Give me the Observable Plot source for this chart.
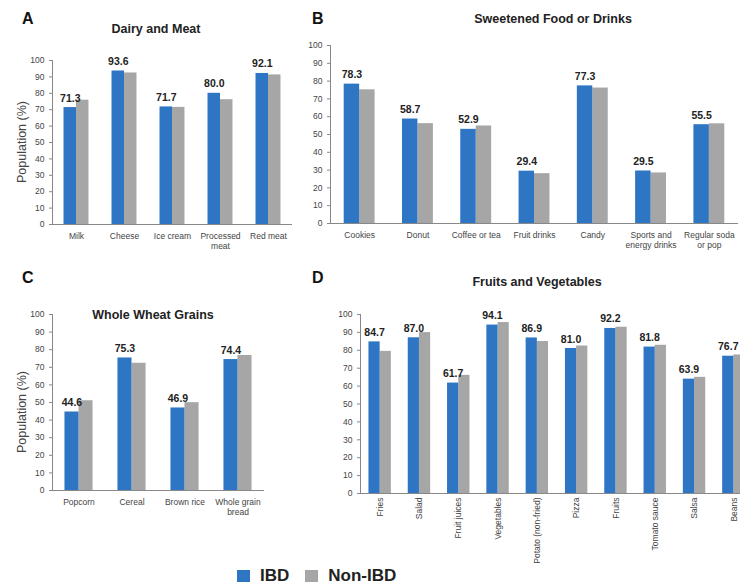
<!DOCTYPE html>
<html>
<head>
<meta charset="utf-8">
<script src="https://cdn.jsdelivr.net/npm/d3@7"></script>
<script src="https://cdn.jsdelivr.net/npm/@observablehq/plot@0.6"></script>
<style>
  body { margin: 0; background: #fff; }
  #root { position: relative; width: 740px; height: 586px; overflow: hidden; background: #fff;
          font-family: "Liberation Sans", Arial, sans-serif; }
  .abs { position: absolute; }
  .letter { font-weight: bold; font-size: 16px; color: #111; }
  .title { font-weight: bold; font-size: 12.5px; color: #222; transform: translateX(-50%); white-space: nowrap; }
  .ylab { font-size: 12.5px; color: #444; transform: translate(-50%, -50%) rotate(-90deg); white-space: nowrap; }
  .legend { display: flex; align-items: center; font-weight: bold; font-size: 17px; color: #222; }
  .sw { width: 13px; height: 12px; display: inline-block; margin-right: 10px; }
</style>
</head>
<body>
<div id="root"></div>
<script>
// ---- Data ----
const seriesNames = ["IBD", "Non-IBD"];
const colors = ["#2e75c4", "#a6a6a6"];
const yTicks = [0, 10, 20, 30, 40, 50, 60, 70, 80, 90, 100];

const dairyCats = ["Milk", "Cheese", "Ice cream", "Processed\nmeat", "Red meat"];
const dairyIBD = [71.3, 93.6, 71.7, 80.0, 92.1];
const dairyNon = [75.8, 92.4, 71.4, 76.1, 91.2];

const sweetCats = ["Cookies", "Donut", "Coffee or tea", "Fruit drinks", "Candy", "Sports and\nenergy drinks", "Regular soda\nor pop"];
const sweetIBD = [78.3, 58.7, 52.9, 29.4, 77.3, 29.5, 55.5];
const sweetNon = [75.1, 56.1, 54.8, 28.0, 76.1, 28.4, 56.0];

const grainCats = ["Popcorn", "Cereal", "Brown rice", "Whole grain\nbread"];
const grainIBD = [44.6, 75.3, 46.9, 74.4];
const grainNon = [51.0, 72.3, 49.9, 76.7];

const fruitCats = ["Fries", "Salad", "Fruit juices", "Vegetables", "Potato (non-fried)", "Pizza", "Fruits", "Tomato sauce", "Salsa", "Beans"];
const fruitIBD = [84.7, 87.0, 61.7, 94.1, 86.9, 81.0, 92.2, 81.8, 63.9, 76.7];
const fruitNon = [79.4, 89.9, 66.0, 95.5, 84.9, 82.4, 92.9, 82.8, 64.9, 77.4];

const root = document.getElementById("root");

function addDiv(cls, text, left, top) {
  const d = document.createElement("div");
  d.className = "abs " + cls;
  d.textContent = text;
  d.style.left = left + "px";
  d.style.top = top + "px";
  root.appendChild(d);
  return d;
}

function panel(o) {
  const data = o.cats.map((c, i) => ({cat: c, ibd: o.ibd[i], non: o.non[i]}));
  const R = o.width - o.ml - o.mr;
  const step = R / o.cats.length;
  const bw = step * (1 - o.pi);
  const chart = Plot.plot({
    width: o.width,
    height: o.height,
    marginLeft: o.ml,
    marginRight: o.mr,
    marginTop: o.mt,
    marginBottom: o.mb,
    style: {fontFamily: "'Liberation Sans', Arial, sans-serif", fontSize: "8.5px", color: "#444", background: "transparent"},
    x: {domain: o.cats, paddingInner: o.pi, paddingOuter: o.pi / 2, round: false, label: null},
    y: {domain: [0, 100], label: null},
    marks: [
      Plot.barY(data, {x: "cat", y: "non", fill: colors[1], insetLeft: bw / 2}),
      Plot.barY(data, {x: "cat", y: "ibd", fill: colors[0], insetRight: bw / 2}),
      Plot.text(data, {x: "cat", y: "ibd", text: d => d.ibd.toFixed(1), dx: -bw / 4, dy: -6,
        fontWeight: "bold", fontSize: 10.5, fill: "#222", lineAnchor: "bottom"}),
      Plot.axisY({ticks: yTicks, tickSize: 3, tickPadding: 5, stroke: "#888", fill: "#444", label: null}),
      Plot.axisX(o.rotate
        ? {tickSize: 0, tickPadding: 4, tickRotate: -90, label: null, fill: "#444"}
        : {tickSize: 0, tickPadding: 7, label: null, fill: "#444", lineHeight: 1.2}),
      Plot.frame({anchor: "left", stroke: "#888"}),
      Plot.ruleY([0], {stroke: "#888"})
    ]
  });
  chart.style.position = "absolute";
  chart.style.left = o.left + "px";
  chart.style.top = o.top + "px";
  root.appendChild(chart);
}

panel({cats: dairyCats, ibd: dairyIBD, non: dairyNon, left: 0, top: 40, width: 300, height: 222, ml: 52, mr: 8, mt: 20, mb: 38, pi: 0.48});
panel({cats: sweetCats, ibd: sweetIBD, non: sweetNon, left: 290, top: 25, width: 450, height: 238, ml: 40, mr: 2, mt: 20, mb: 40, pi: 0.47});
panel({cats: grainCats, ibd: grainIBD, non: grainNon, left: 0, top: 294, width: 270, height: 232, ml: 52, mr: 6, mt: 20, mb: 36, pi: 0.47});
panel({cats: fruitCats, ibd: fruitIBD, non: fruitNon, left: 320, top: 294, width: 440, height: 282, ml: 40, mr: 7, mt: 20, mb: 83, pi: 0.43, rotate: true});

// Panel letters and titles
addDiv("letter", "A", 22, 10);
addDiv("letter", "B", 312, 10);
addDiv("letter", "C", 22, 269);
addDiv("letter", "D", 312, 269);
addDiv("title", "Dairy and Meat", 156, 22);
addDiv("title", "Sweetened Food or Drinks", 553, 12);
addDiv("title", "Whole Wheat Grains", 153, 308);
addDiv("title", "Fruits and Vegetables", 537, 275);
addDiv("ylab", "Population (%)", 22, 142);
addDiv("ylab", "Population (%)", 22, 412);

// Legend
const leg = document.createElement("div");
leg.className = "abs legend";
leg.style.left = "237px";
leg.style.top = "566px";
seriesNames.forEach((s, i) => {
  const sw = document.createElement("span");
  sw.className = "sw";
  sw.style.background = colors[i];
  const t = document.createElement("span");
  t.textContent = s;
  t.style.marginRight = i === 0 ? "16px" : "0";
  leg.appendChild(sw);
  leg.appendChild(t);
});
root.appendChild(leg);
</script>
</body>
</html>
